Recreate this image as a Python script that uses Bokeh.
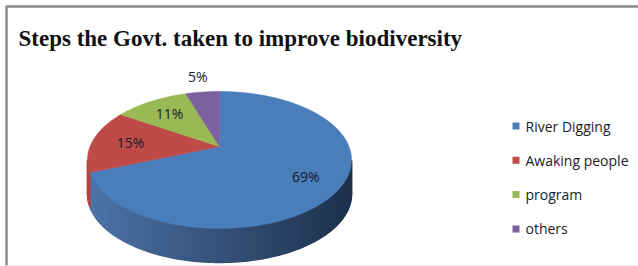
import math
from bokeh.plotting import figure
from bokeh.models import Range1d
from bokeh.core.properties import value
from bokeh.embed import file_html
from bokeh.resources import INLINE

# ---- data ----
title = "Steps the Govt. taken to improve biodiversity"
categories = ["River Digging", "Awaking people", "program", "others"]
shares = [69, 15, 11, 5]
labels = ["69%", "15%", "11%", "5%"]

# ---- style ----
top_colors = ["#4A7EBB", "#BE4B48", "#98B954", "#7D60A0"]
side_dark = [(30, 48, 75), (120, 40, 38), (95, 120, 50), (80, 60, 105)]
side_light = [(78, 116, 168), (176, 72, 68), (140, 170, 80), (115, 90, 150)]
label_r = [0.74, 0.70, 0.70, 1.36]

W, H = 638, 266
p = figure(width=W, height=H, output_backend="svg", toolbar_location=None,
           x_range=Range1d(0, W), y_range=Range1d(H, 0),
           min_border=0, outline_line_color=None)
p.axis.visible = False
p.grid.visible = False
p.background_fill_color = "white"

# chart border
p.line(x=[6, 6, 640], y=[265, 6, 6], line_color="#8c8c8c", line_width=2.5)
p.line(x=[6, 640], y=[265.5, 265.5], line_color="#e2e2e2", line_width=1)

# pie geometry (perspective projected)
cx, cy = 219.0, 146.0
a, b, e = 129.4, 65.8, 0.197
depth = 34.0


def proj(r, th_deg):
    th = math.radians(th_deg)
    u = r * math.sin(th)
    v = r * math.cos(th)
    d = 1 + e * v
    return cx + a * u / d, cy - b * v / d


total = float(sum(shares))
bounds = [0.0]
for s in shares:
    bounds.append(bounds[-1] + 360.0 * s / total)


def slice_of(th):
    for i in range(len(shares)):
        if bounds[i] <= th < bounds[i + 1]:
            return i
    return len(shares) - 1


# side (front half)
th_r = math.degrees(math.acos(-e))
th_l = 360 - th_r
n = 120
xl = proj(1, th_l)[0]
xr = proj(1, th_r)[0]
xs_list, ys_list, cols = [], [], []
for k in range(n):
    t1 = th_r + (th_l - th_r) * k / n
    t2 = th_r + (th_l - th_r) * (k + 1) / n
    i = slice_of((t1 + t2) / 2)
    x1, y1 = proj(1, t1)
    x2, y2 = proj(1, t2)
    f = (((x1 + x2) / 2) - xl) / (xr - xl)
    f = min(max(f, 0), 1)
    lo, hi = side_light[i], side_dark[i]
    c = tuple(int(lo[j] + (hi[j] - lo[j]) * f) for j in range(3))
    xs_list.append([x1, x2, x2, x1])
    ys_list.append([y1, y2, y2 + depth, y1 + depth])
    cols.append("#%02x%02x%02x" % c)
p.patches(xs=xs_list, ys=ys_list, fill_color=cols, line_color=cols, line_width=1.5)

# top face
pxs, pys = [], []
for i in range(len(shares)):
    m = max(4, int((bounds[i + 1] - bounds[i]) / 1.5))
    xx, yy = [cx], [cy]
    for k in range(m + 1):
        th = bounds[i] + (bounds[i + 1] - bounds[i]) * k / m
        x, y = proj(1, th)
        xx.append(x)
        yy.append(y)
    pxs.append(xx)
    pys.append(yy)
p.patches(xs=pxs, ys=pys, fill_color=top_colors, line_color=top_colors, line_width=0.6)

# percent labels
lx, ly = [], []
for i in range(len(shares)):
    mid = (bounds[i] + bounds[i + 1]) / 2
    x, y = proj(label_r[i], mid)
    lx.append(x)
    ly.append(y)
p.text(x=lx, y=ly, text=labels, text_align="center", text_baseline="middle",
       text_font=value("Open Sans"), text_font_size="14px", text_color="#1b1b2a")

# title
p.text(x=[18], y=[38], text=[title], text_align="left", text_baseline="alphabetic",
       text_font=value("Liberation Serif"), text_font_style="bold",
       text_font_size="23px", text_color="#111111")

# legend
ly0, dy = 125.5, 34.3
leg_y = [ly0 + dy * i for i in range(len(categories))]
p.rect(x=[515.5] * len(categories), y=leg_y, width=7, height=7,
       fill_color=top_colors, line_color=None)
p.text(x=[525] * len(categories), y=leg_y, text=categories, text_align="left",
       text_baseline="middle", text_font=value("Open Sans"), text_font_size="14px",
       text_color="#1b1b2a")

open("out.html", "w").write(file_html(p, INLINE))
